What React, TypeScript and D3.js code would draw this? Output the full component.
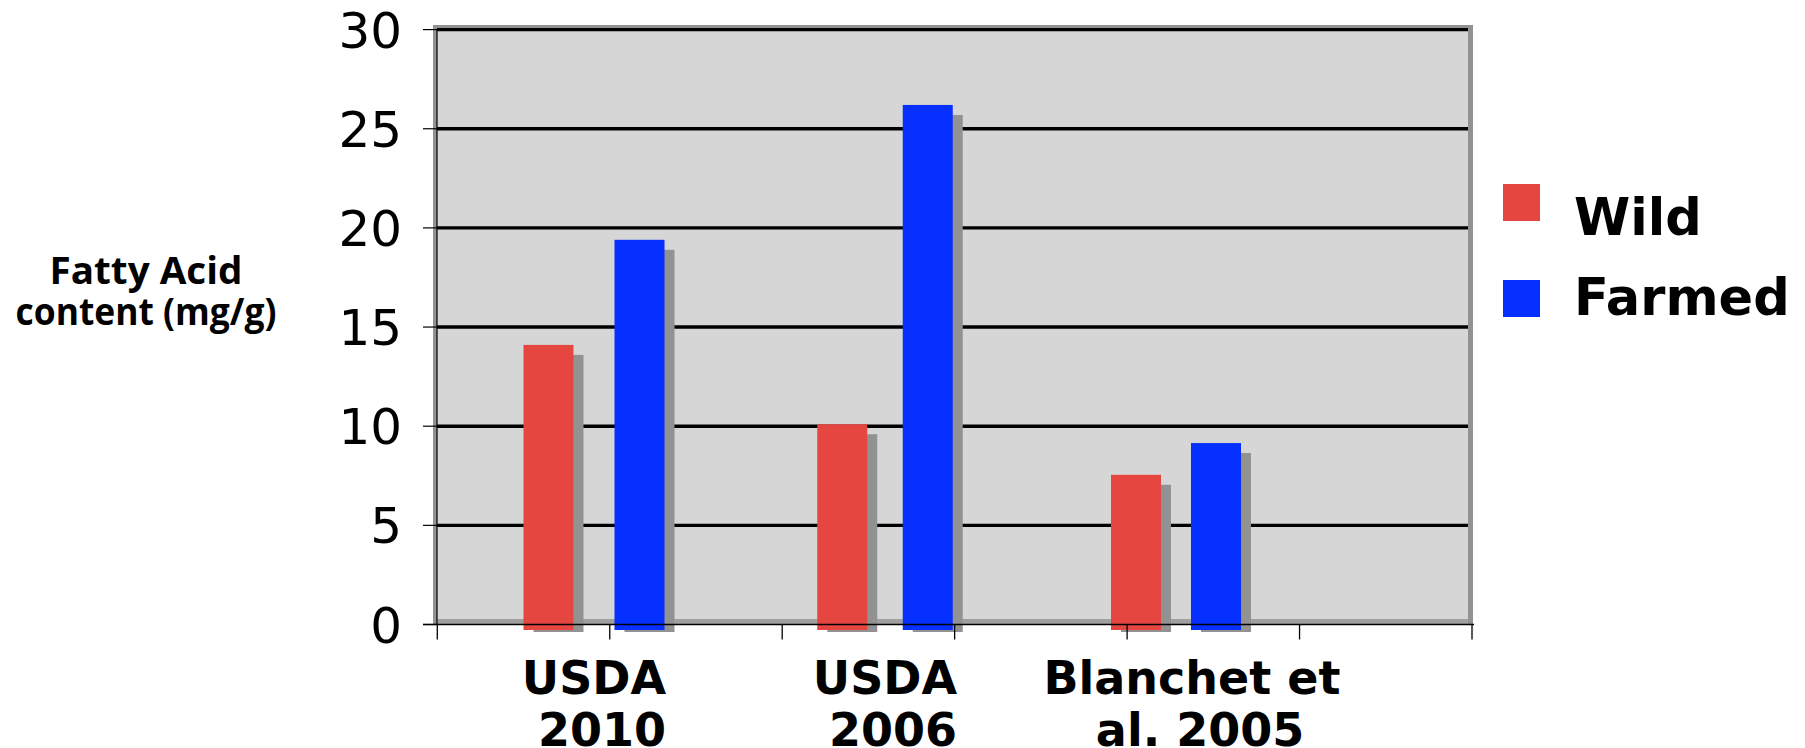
import React from "react";
import * as d3 from "d3";

const categories = ["USDA 2010", "USDA 2006", "Blanchet et al. 2005"];
const labelLines = [["USDA", " 2010"], ["USDA", " 2006"], ["Blanchet et", " al. 2005"]];
const wildValues = [14.1, 10.1, 7.55];
const farmedValues = [19.4, 26.2, 9.15];
const yTicks = [0, 5, 10, 15, 20, 25, 30];
const seriesNames = ["Wild", "Farmed"];
const seriesColors = ["#e64640", "#0530ff"];
const yTitle = ["Fatty Acid", "content (mg/g)"];

const W = 1805;
const H = 748;

export default function App() {
  const left = 437;
  const right = 1468;
  const y = d3.scaleLinear().domain([0, 30]).range([624.5, 29.6]);
  const xTick = d3.scaleLinear().domain([0, 6]).range([437.3, 1472]);
  const xGroup = d3.scaleLinear().domain([0, categories.length - 1]).range([594, 1176]);
  const xOff = d3.scaleLinear().domain([0, categories.length - 1]).range([45.5, 40]);
  const barW = 50;
  const shadow = 10;
  const series = [wildValues, farmedValues];
  const base = y(0);

  return (
    <svg width={W} height={H} style={{ position: "absolute", left: 0, top: 0, background: "#fff" }}>
      <rect x={left} y={y(30)} width={right - left} height={base - y(30)} fill="#d6d6d6" />
      <rect x={433} y={25} width={4} height={base - 25} fill="#929292" />
      <rect x={433} y={25} width={right + 5 - 433} height={4.6} fill="#929292" />
      <rect x={right} y={25} width={5} height={base - 25} fill="#929292" />
      <rect x={left} y={base - 5.5} width={right - left} height={5.5} fill="#a0a0a0" />
      {yTicks.filter((t) => t > 0).map((t) => (
        <line key={t} x1={left} x2={right} y1={y(t)} y2={y(t)} stroke="#000" strokeWidth={3.4} />
      ))}
      {series.map((vals, s) =>
        vals.map((v, i) => {
          const cx = xGroup(i) + (s === 0 ? -xOff(i) : xOff(i));
          const x0 = cx - barW / 2;
          return (
            <g key={`${s}-${i}`}>
              <rect x={x0 + shadow} y={y(v) + shadow} width={barW} height={base + 7.5 - y(v) - shadow} fill="#929292" />
              <rect x={x0} y={y(v)} width={barW} height={base + 5.5 - y(v)} fill={seriesColors[s]} />
            </g>
          );
        })
      )}
      <line x1={left} x2={left} y1={y(30)} y2={base} stroke="#000" strokeWidth={1.2} />
      {yTicks.map((t) => (
        <g key={t}>
          <line x1={423} x2={left} y1={y(t)} y2={y(t)} stroke="#000" strokeWidth={1.2} />
          <text x={402} y={y(t) + 18} textAnchor="end" fontFamily="DejaVu Sans" fontSize={50} fill="#000">
            {t}
          </text>
        </g>
      ))}
      <line x1={423} x2={1474} y1={base} y2={base} stroke="#000" strokeWidth={1.5} />
      {d3.range(7).map((k) => (
        <line key={k} x1={xTick(k)} x2={xTick(k)} y1={base} y2={base + 15} stroke="#000" strokeWidth={1.3} />
      ))}
      {labelLines.map((lines, i) => (
        <g key={categories[i]}>
          {lines.map((ln, j) => (
            <text
              key={j}
              x={xGroup(i) + (i === 2 ? 16 : 0)}
              y={694 + j * 52}
              textAnchor="middle"
              fontFamily="DejaVu Sans"
              fontWeight="bold"
              fontSize={46}
              fill="#000"
              style={{ whiteSpace: "pre" }}
            >
              {ln}
            </text>
          ))}
        </g>
      ))}
      <text x={146} y={284} textAnchor="middle" fontFamily="Open Sans" fontWeight="bold" fontSize={37} textLength={193} lengthAdjust="spacingAndGlyphs" fill="#000">
        {yTitle[0]}
      </text>
      <text x={146} y={325} textAnchor="middle" fontFamily="Open Sans" fontWeight="bold" fontSize={37} textLength={261} lengthAdjust="spacingAndGlyphs" fill="#000">
        {yTitle[1]}
      </text>
      {seriesNames.map((n, s) => (
        <g key={n}>
          <rect x={1503} y={184 + s * 96} width={37} height={37} fill={seriesColors[s]} />
          <text x={1574} y={235 + s * 80} fontFamily="DejaVu Sans" fontWeight="bold" fontSize={51} fill="#000">
            {n}
          </text>
        </g>
      ))}
    </svg>
  );
}
